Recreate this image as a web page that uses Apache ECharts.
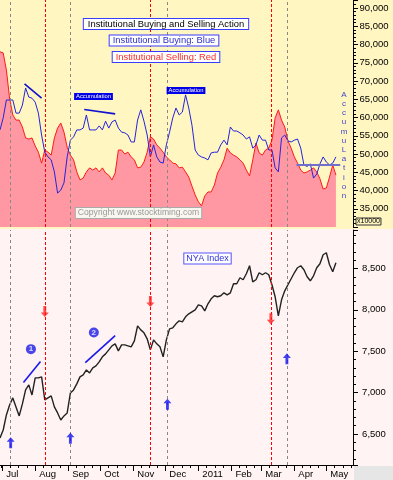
<!DOCTYPE html>
<html><head><meta charset="utf-8">
<script src="https://cdn.jsdelivr.net/npm/echarts@6/dist/echarts.min.js"></script>
<style>html,body{margin:0;padding:0;background:#fff3f3}#c{width:393px;height:480px}</style>
</head><body><div id="c"></div>
<script>
const dates = [
'2010-06-29','2010-07-02','2010-07-05','2010-07-08','2010-07-11','2010-07-14','2010-07-17','2010-07-20','2010-07-23','2010-07-26','2010-07-29',
'2010-08-01','2010-08-04','2010-08-07','2010-08-10','2010-08-13','2010-08-16','2010-08-19','2010-08-22','2010-08-25','2010-08-28','2010-08-31',
'2010-09-03','2010-09-06','2010-09-09','2010-09-12','2010-09-15','2010-09-18','2010-09-21','2010-09-24','2010-09-27','2010-09-30',
'2010-10-03','2010-10-06','2010-10-09','2010-10-12','2010-10-15','2010-10-18','2010-10-21','2010-10-24','2010-10-27','2010-10-30',
'2010-11-02','2010-11-05','2010-11-08','2010-11-11','2010-11-14','2010-11-17','2010-11-20','2010-11-23','2010-11-26','2010-11-29',
'2010-12-02','2010-12-05','2010-12-08','2010-12-11','2010-12-14','2010-12-17','2010-12-20','2010-12-23','2010-12-26','2010-12-29',
'2011-01-01','2011-01-04','2011-01-07','2011-01-10','2011-01-13','2011-01-16','2011-01-19','2011-01-22','2011-01-25','2011-01-28','2011-01-31',
'2011-02-03','2011-02-06','2011-02-09','2011-02-12','2011-02-15','2011-02-18','2011-02-21','2011-02-24','2011-02-27',
'2011-03-02','2011-03-05','2011-03-08','2011-03-11','2011-03-14','2011-03-17','2011-03-20','2011-03-23','2011-03-26','2011-03-29',
'2011-04-01','2011-04-04','2011-04-07','2011-04-10','2011-04-13','2011-04-16','2011-04-19','2011-04-22','2011-04-25','2011-04-28',
'2011-05-01','2011-05-04','2011-05-07','2011-05-10'];

const selling = [
78000,77700,73000,65300,60700,59300,59300,57400,54400,54100,
54400,52200,50500,47500,51100,50500,49700,54400,57100,58500,
56000,51900,49700,48400,45100,42900,43400,45100,46200,45600,
46200,45100,46200,44800,44200,42900,44800,51100,51100,50000,
50500,49200,48400,46200,46400,47800,50500,54700,54100,52500,
51600,50500,49200,48400,47500,47300,46200,46400,45100,43700,
41200,38800,36900,35800,38500,39600,39600,41500,44800,46400,
48400,51600,50300,49700,49200,48400,47500,45600,44000,48400,
53000,50300,49700,51100,51600,53800,59900,62100,59300,57400,
53600,51600,49200,47500,45600,44800,45100,45600,46200,45100,
43200,40400,40700,43700,47000,44200];

const buying = [
56600,59900,64800,64800,64800,61200,61200,63400,68100,65600,
65300,64200,61200,55200,50500,49200,48400,45100,39300,40100,
42100,49200,53800,54700,56600,56600,57100,60700,56600,56600,
56600,57700,56600,59000,57100,58800,59300,57100,56000,55800,
55200,53300,53300,59300,62100,59000,55200,49200,52500,49200,
47800,47500,52500,56000,59900,62600,60700,61500,66200,62600,
57900,51100,49700,49200,48900,48400,50300,50500,50500,52500,
53800,52500,57400,56300,56300,55800,55200,54100,54700,51600,
52500,55200,53800,53800,51100,51100,46200,45100,54400,55200,
53600,53300,53800,54100,51600,47000,46600,47300,43400,44500,
47300,49200,47800,47000,47500,49200];

const nya = [
6452,6548,6730,6851,6936,6827,6718,6863,7032,7093,
6972,7178,7178,7190,6911,6936,6960,6827,6754,6669,
6718,6754,6996,7032,7105,7190,7214,7274,7238,7299,
7323,7371,7432,7468,7516,7565,7589,7504,7577,7577,
7565,7553,7625,7807,7758,7722,7650,7516,7637,7589,
7553,7432,7637,7770,7783,7831,7867,7855,7916,7952,
7976,8000,8061,8049,7988,8073,8134,8170,8158,8170,
8206,8182,8206,8315,8315,8388,8364,8436,8533,8339,
8364,8448,8424,8448,8424,8303,8158,7928,8121,8230,
8303,8376,8448,8509,8533,8484,8400,8351,8412,8509,
8557,8666,8690,8545,8460,8569];

const monthTicks = ['2010-07-01','2010-08-01','2010-09-01','2010-10-01','2010-11-01','2010-12-01','2011-01-01','2011-02-01','2011-03-01','2011-04-01','2011-05-01','2011-06-01'];
const monthLabels = ['Jul','Aug','Sep','Oct','Nov','Dec','2011','Feb','Mar','Apr','May',''];
const grayLines = ['2010-07-09','2010-09-03','2010-12-03','2011-03-25'];
const redLines = ['2010-08-10','2010-11-17','2011-03-10'];
const upArrows = [['2010-07-09',6395],['2010-09-03',6448],['2010-12-03',6859],['2011-03-25',7408]];
const downArrows = [['2010-08-10',7980],['2010-11-17',8101],['2011-03-10',7892]];
const circledNums = [['2010-07-28',7525,'1'],['2010-09-25',7726,'2']];
const nyaTrend1 = [['2010-07-21',7121],['2010-08-06',7375]];
const nyaTrend2 = [['2010-09-17',7363],['2010-10-15',7689]];
const topTrend1 = [['2010-07-22',69200],['2010-08-07',65300]];
const topTrend2 = [['2010-09-16',62200],['2010-10-15',61000]];
const accumLevel = [['2011-04-03',47000],['2011-05-14',47000]];

const ts = s => new Date(s + 'T00:00:00').getTime();
const pts = arr => arr.map(p => [ts(p[0])].concat(p.slice(1)));
const monthTs = monthTicks.map(ts);
// quarter-month minor tick positions between month starts
const minorTs = [];
for (let i = 0; i < monthTs.length - 1; i++) {
  for (let j = 1; j < 4; j++) minorTs.push(monthTs[i] + (monthTs[i+1] - monthTs[i]) * j / 4);
}
minorTs.unshift(ts('2010-06-30'));
const xMin = ts('2010-06-29'), xMax = ts('2011-05-26');
const FONT = '"Liberation Sans", Arial, sans-serif';

const markLines = {
  silent: true, symbol: ['none','none'], label: {show:false},
  data: grayLines.map(d => ({xAxis: ts(d), lineStyle:{color:'#888', type:[3,3], width:1}}))
    .concat(redLines.map(d => ({xAxis: ts(d), lineStyle:{color:'#ff0000', type:[3,2], width:1}})))
};

const chart = echarts.init(document.getElementById('c'));
const yAxisCommon = {
  position:'right',
  axisLine:{show:true, lineStyle:{color:'#000', width:1}},
  axisTick:{show:true, length:5, lineStyle:{color:'#000'}},
  minorTick:{show:true, splitNumber:5, length:3, lineStyle:{color:'#000'}},
  splitLine:{show:false},
  axisLabel:{color:'#000', fontSize:9.5, fontFamily:FONT, align:'center', margin:21, showMinLabel:false, showMaxLabel:false}
};
chart.setOption({
  animation:false,
  backgroundColor:'#fff3f3',
  grid:[
    {left:0, right:40, top:0, height:227},
    {left:0, right:40, top:230, height:235}
  ],
  xAxis:[
    {type:'value', gridIndex:0, min:xMin, max:xMax, show:false},
    {type:'value', gridIndex:1, min:xMin, max:xMax,
     axisLine:{lineStyle:{color:'#000'}},
     axisTick:{customValues:monthTs, length:6, lineStyle:{color:'#000'}},
     splitLine:{show:false},
     axisLabel:{customValues:monthTs, formatter:v => monthLabels[monthTs.indexOf(v)] || '',
       align:'left', padding:[0,0,0,4], margin:4, color:'#000', fontSize:9.5, fontFamily:FONT}},
    {type:'value', gridIndex:1, min:xMin, max:xMax, position:'bottom',
     axisLine:{show:false}, splitLine:{show:false}, axisLabel:{show:false},
     axisTick:{show:true, customValues:minorTs, length:3, lineStyle:{color:'#000'}}}
  ],
  yAxis:[
    Object.assign({type:'value', gridIndex:0, min:30000, max:92200, interval:5000}, yAxisCommon),
    Object.assign({type:'value', gridIndex:1, min:6125, max:8965}, yAxisCommon)
  ],
  graphic:[
    {type:'rect', z:-10, silent:true, shape:{x:0,y:0,width:393,height:229}, style:{fill:'#fff6c2'}},
    {type:'rect', z:-10, silent:true, shape:{x:354,y:466,width:39,height:14}, style:{fill:'#e6e6e6'}},
    {type:'text', z:100, style:{text:'Institutional Buying and Selling Action', x:166, y:24, align:'center', verticalAlign:'middle',
      font:'9.4px '+FONT, fill:'#000', backgroundColor:'#fff', borderColor:'#3b3bff', borderWidth:1, padding:[1,4,0,4]}},
    {type:'text', z:100, style:{text:'Institutional Buying: Blue', x:164, y:40.5, align:'center', verticalAlign:'middle',
      font:'9.4px '+FONT, fill:'#3030c8', backgroundColor:'#fff', borderColor:'#3b3bff', borderWidth:1, padding:[1,3,0,3]}},
    {type:'text', z:100, style:{text:'Institutional Selling: Red', x:166, y:57, align:'center', verticalAlign:'middle',
      font:'9.4px '+FONT, fill:'#ff2a2a', backgroundColor:'#fff', borderColor:'#3b3bff', borderWidth:1, padding:[1,3,0,3]}},
    {type:'text', z:100, style:{text:'Accumulation', x:93.5, y:96.5, align:'center', verticalAlign:'middle',
      font:'5.8px '+FONT, fill:'#fff', backgroundColor:'#0000e6', padding:[1,2,0,2]}},
    {type:'text', z:100, style:{text:'Accumulation', x:186, y:90.5, align:'center', verticalAlign:'middle',
      font:'5.8px '+FONT, fill:'#fff', backgroundColor:'#0000e6', padding:[1,2,0,2]}},
    {type:'text', z:100, style:{text:'A\nc\nc\nu\nm\nu\nL\na\nt\ni\no\nn', x:344, y:90, align:'center', verticalAlign:'top',
      font:'8px '+FONT, fill:'#4444cc', lineHeight:9.2}},
    {type:'text', z:100, style:{text:'Copyright www.stocktiming.com', x:138.5, y:213, align:'center', verticalAlign:'middle',
      font:'8.6px '+FONT, fill:'#9a9a9a', backgroundColor:'#f8f6ee', borderColor:'#aaa', borderWidth:1, padding:[1,2,0,2]}},
    {type:'text', z:100, style:{text:'x10000', x:356, y:221.5, align:'left', verticalAlign:'middle',
      font:'7px '+FONT, fill:'#000', borderColor:'#333', borderWidth:1, padding:[0,1,0,1]}},
    {type:'text', z:100, style:{text:'NYA Index', x:207.5, y:258.5, align:'center', verticalAlign:'middle',
      font:'9px '+FONT, fill:'#3030d8', backgroundColor:'#fff', borderColor:'#5555ff', borderWidth:1, padding:[1,2,0,2]}}
  ],
  series:[
    {type:'line', xAxisIndex:0, yAxisIndex:0, z:2, showSymbol:false,
     data:dates.map((d,i)=>[ts(d), selling[i]]),
     lineStyle:{color:'#ff1a1a', width:1}, areaStyle:{color:'#ff98a2', opacity:1, origin:'start'},
     markLine:markLines},
    {type:'line', xAxisIndex:0, yAxisIndex:0, z:3, showSymbol:false,
     data:dates.map((d,i)=>[ts(d), buying[i]]), lineStyle:{color:'#2424dc', width:1}},
    {type:'line', xAxisIndex:0, yAxisIndex:0, z:4, showSymbol:false, data:pts(topTrend1), lineStyle:{color:'#1010d0', width:1.6}},
    {type:'line', xAxisIndex:0, yAxisIndex:0, z:4, showSymbol:false, data:pts(topTrend2), lineStyle:{color:'#1010d0', width:1.6}},
    {type:'line', xAxisIndex:0, yAxisIndex:0, z:4, showSymbol:false, data:pts(accumLevel), lineStyle:{color:'#7070cc', width:2}},
    {type:'line', xAxisIndex:1, yAxisIndex:1, z:3, showSymbol:false,
     data:dates.map((d,i)=>[ts(d), nya[i]]), lineStyle:{color:'#222', width:1.4}, markLine:markLines},
    {type:'line', xAxisIndex:1, yAxisIndex:1, z:4, showSymbol:false, data:pts(nyaTrend1), lineStyle:{color:'#1a1aee', width:1.6}},
    {type:'line', xAxisIndex:1, yAxisIndex:1, z:4, showSymbol:false, data:pts(nyaTrend2), lineStyle:{color:'#1a1aee', width:1.6}},
    {type:'scatter', xAxisIndex:1, yAxisIndex:1, z:5, data:pts(upArrows),
     symbol:'path://M5,0 L10,5 L6.8,5 L6.8,12 L3.2,12 L3.2,5 L0,5 Z', symbolSize:[8,11], itemStyle:{color:'#1414f0'}},
    {type:'scatter', xAxisIndex:1, yAxisIndex:1, z:5, data:pts(downArrows),
     symbol:'path://M3.2,0 L6.8,0 L6.8,7 L10,7 L5,12 L0,7 L3.2,7 Z', symbolSize:[8,11], itemStyle:{color:'#ff2020'}},
    {type:'scatter', xAxisIndex:1, yAxisIndex:1, z:5, data:pts(circledNums),
     symbol:'circle', symbolSize:10, itemStyle:{color:'#1a1ae6'},
     label:{show:true, position:'inside', formatter:p => p.value[2], color:'#fff', fontSize:8, fontWeight:'bold', fontFamily:FONT}}
  ]
});
</script></body></html>
